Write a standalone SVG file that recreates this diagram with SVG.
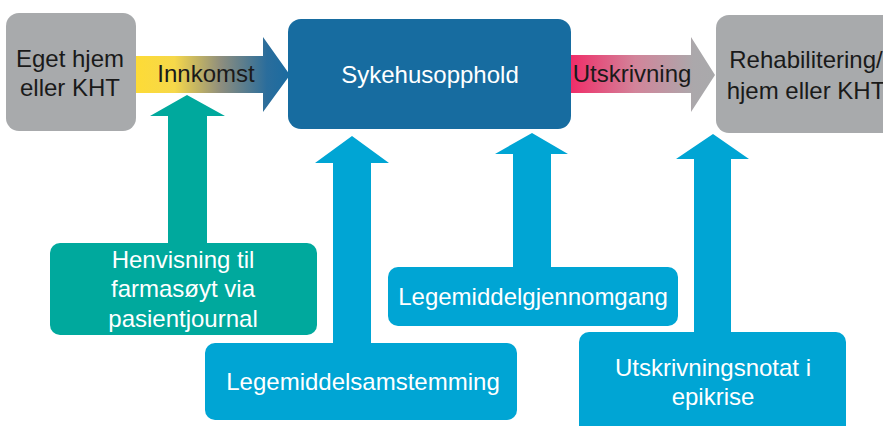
<svg xmlns="http://www.w3.org/2000/svg" width="883" height="426" viewBox="0 0 883 426">
<defs>
<linearGradient id="gIn" x1="136" y1="0" x2="290" y2="0" gradientUnits="userSpaceOnUse">
<stop offset="0" stop-color="#FDDB36"/>
<stop offset="0.25" stop-color="#F6D84A"/>
<stop offset="0.55" stop-color="#8E8E7E"/>
<stop offset="0.85" stop-color="#2A6D9C"/>
<stop offset="1" stop-color="#1A6BA0"/>
</linearGradient>
<linearGradient id="gOut" x1="570" y1="0" x2="715" y2="0" gradientUnits="userSpaceOnUse">
<stop offset="0" stop-color="#F02C68"/>
<stop offset="0.45" stop-color="#D2849A"/>
<stop offset="0.85" stop-color="#ABA8AB"/>
<stop offset="1" stop-color="#A9A9AB"/>
</linearGradient>
</defs>
<style>
text{font-family:"Liberation Sans",Arial,sans-serif;font-size:24px;text-anchor:middle}
.dark{fill:#1a1a1a}
.light{fill:#ffffff}
.gray{fill:#A8AAAC}
.teal{fill:#00A99D}
.blue{fill:#00A5D4}
.navy{fill:#176CA0}
</style>
<rect width="883" height="426" fill="#ffffff"/>
<g id="connectors">
<polygon id="arrow-innkomst" fill="url(#gIn)" points="136,56 263,56 263,37 290,75 263,112 263,93 136,93"/>
<polygon id="arrow-utskrivning" fill="url(#gOut)" points="570,55 691,55 691,37 715,75 691,112 691,93 570,93"/>
<polygon id="arrow-henvisning" class="teal" points="168,243 168,116 150,116 187,95 225,116 207,116 207,243"/>
<polygon id="arrow-samstemming" class="blue" points="333,343 333,163 315,163 352,136 389,163 371,163 371,343"/>
<polygon id="arrow-gjennomgang" class="blue" points="513,267 513,154 495,154 532,133 568,154 551,154 551,267"/>
<polygon id="arrow-epikrise" class="blue" points="694,332 694,159 676,159 713,134 749,159 731,159 731,332"/>
<text class="dark" x="206" y="82">Innkomst</text>
<text class="dark" x="632" y="82">Utskrivning</text>
</g>
<g id="node-hjem">
<rect class="gray" x="6" y="13" width="130" height="118" rx="13"/>
<text class="dark" x="70" y="67">Eget hjem</text>
<text class="dark" x="70" y="96">eller KHT</text>
</g>
<g id="node-sykehus">
<rect class="navy" x="288" y="19" width="283" height="110" rx="13"/>
<text class="light" x="430" y="83">Sykehusopphold</text>
</g>
<g id="node-rehab">
<rect class="gray" x="716" y="15" width="190" height="118" rx="13"/>
<text class="dark" x="806" y="68">Rehabilitering/</text>
<text class="dark" x="806" y="99">hjem eller KHT</text>
</g>
<g id="node-henvisning">
<rect class="teal" x="50" y="243" width="267" height="92" rx="10"/>
<text class="light" x="183" y="268">Henvisning til</text>
<text class="light" x="183" y="297">farmasøyt via</text>
<text class="light" x="183" y="327">pasientjournal</text>
</g>
<g id="node-samstemming">
<rect class="blue" x="205" y="343" width="312" height="77" rx="10"/>
<text class="light" x="363" y="390">Legemiddelsamstemming</text>
</g>
<g id="node-gjennomgang">
<rect class="blue" x="388" y="267" width="290" height="59" rx="10"/>
<text class="light" x="533" y="305">Legemiddelgjennomgang</text>
</g>
<g id="node-epikrise">
<rect class="blue" x="579" y="332" width="267" height="110" rx="10"/>
<text class="light" x="713" y="376">Utskrivningsnotat i</text>
<text class="light" x="713" y="405">epikrise</text>
</g>
</svg>
